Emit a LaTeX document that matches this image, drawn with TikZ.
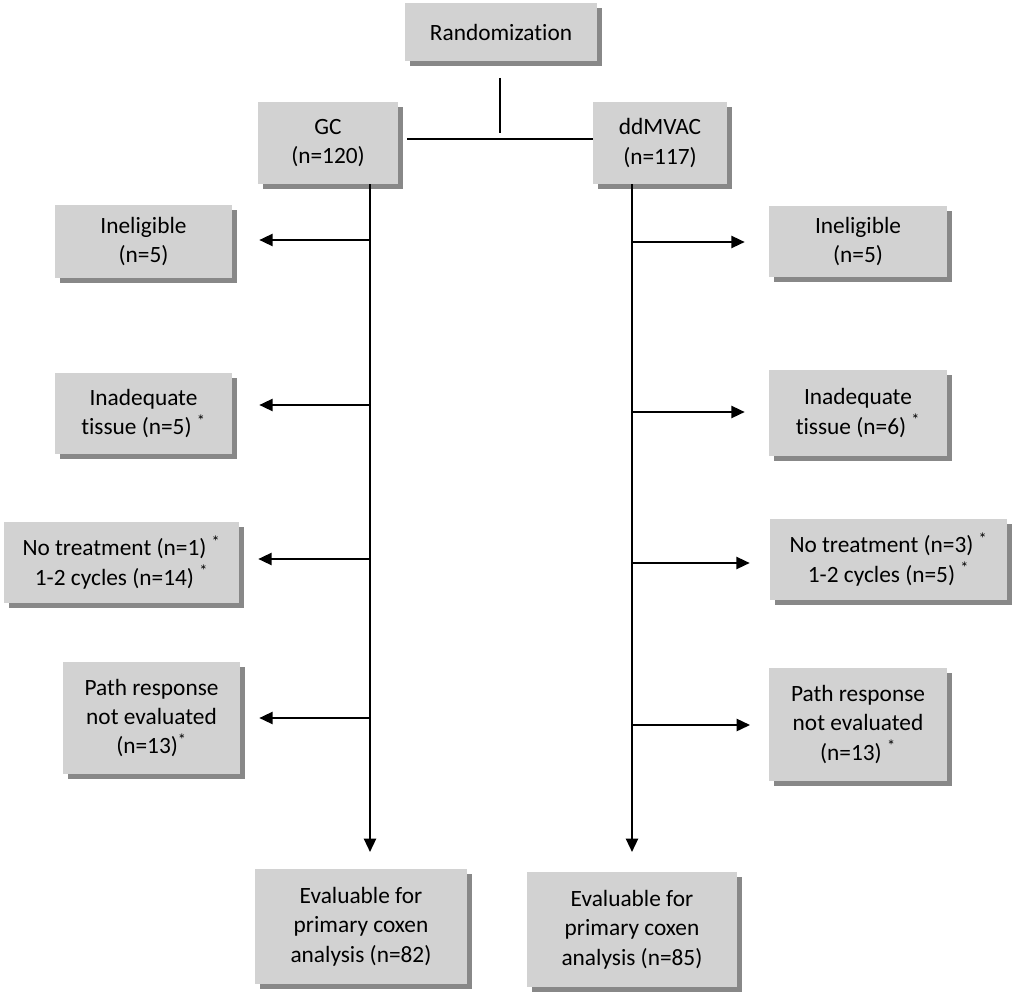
\documentclass[tikz,border=0pt]{standalone}
\usepackage{fontspec}
\setmainfont{Carlito}[Ligatures=NoCommon]
\usetikzlibrary{shadows,arrows.meta}
\tikzset{
  box/.style={fill=boxgray, inner sep=0pt, align=center, font=\fontsize{17.5}{22}\selectfont,
    drop shadow={shadow xshift=3.75pt, shadow yshift=-3.75pt, fill=shadowgray, opacity=1}},
  bx/.style 2 args={box, minimum width={0.75pt*#1}, minimum height={0.75pt*#2}},
  ln/.style={line width=1.7pt},
  arr/.style={ln, -{Triangle[length=10pt,width=9pt]}},
}
\definecolor{boxgray}{HTML}{D2D2D2}
\definecolor{shadowgray}{HTML}{888888}
\newcommand{\myast}{\textsuperscript{*}}
\begin{document}
\begin{tikzpicture}[x=0.75pt,y=-0.75pt]
\useasboundingbox (0,0) rectangle (1016,995);
% boxes
\node[bx={192}{58}] (rand) at (501,32) {Randomization};
\node[bx={140}{82}] (gc) at (328,143) {GC\\(n=120)};
\node[bx={134}{82}] (dd) at (660,143) {ddMVAC\\(n=117)};
\node[bx={177}{73}] (l1) at (143.5,241.5) {Ineligible\\(n=5)};
\node[bx={177}{81}] (l2) at (143.5,413.5) {Inadequate\\tissue (n=5) \myast};
\node[bx={235}{81}] (l3) at (121.5,562.5) {No treatment (n=1) \myast\\1-2 cycles (n=14) \myast};
\node[bx={177}{112}] (l4) at (151.5,718) {Path response\\not evaluated\\(n=13)\myast};
\node[bx={178}{71}] (r1) at (858,241.5) {Ineligible\\(n=5)};
\node[bx={178}{86}] (r2) at (858,413) {Inadequate\\tissue (n=6) \myast};
\node[bx={237}{81}] (r3) at (888.5,559.5) {No treatment (n=3) \myast\\1-2 cycles (n=5) \myast};
\node[bx={178}{113}] (r4) at (858,724.5) {Path response\\not evaluated\\(n=13) \myast};
\node[bx={212}{115}] (e1) at (361,926.5) {Evaluable for\\primary coxen\\analysis (n=82)};
\node[bx={210}{115}] (e2) at (632,929.5) {Evaluable for\\primary coxen\\analysis (n=85)};
% junction coordinates
\coordinate (rtop) at (500,78);
\coordinate (rj) at (500,133);
\coordinate (hl) at (407,139);
\coordinate (gs) at (370,184);
\coordinate (ds) at (632,184);
\coordinate (ge) at (370,852);
\coordinate (de) at (632,852);
\coordinate (ga1) at (370,240);
\coordinate (ga2) at (370,405);
\coordinate (ga3) at (370,559);
\coordinate (ga4) at (370,718);
\coordinate (da1) at (632,242);
\coordinate (da2) at (632,412);
\coordinate (da3) at (632,563);
\coordinate (da4) at (632,725);
% connectors
\draw[ln] (rtop) -- (rj);
\draw[ln] (hl) -- (hl -| dd.west);
\draw[arr] (gs) -- (ge);
\draw[arr] (ds) -- (de);
\draw[arr, shorten >=20.25pt] (ga1) -- (ga1 -| l1.east);
\draw[arr, shorten >=20.25pt] (ga2) -- (ga2 -| l2.east);
\draw[arr, shorten >=14.25pt] (ga3) -- (ga3 -| l3.east);
\draw[arr, shorten >=14.25pt] (ga4) -- (ga4 -| l4.east);
\draw[arr, shorten >=18pt] (da1) -- (da1 -| r1.west);
\draw[arr, shorten >=18pt] (da2) -- (da2 -| r2.west);
\draw[arr, shorten >=15pt] (da3) -- (da3 -| r3.west);
\draw[arr, shorten >=14pt] (da4) -- (da4 -| r4.west);
\end{tikzpicture}
\end{document}
